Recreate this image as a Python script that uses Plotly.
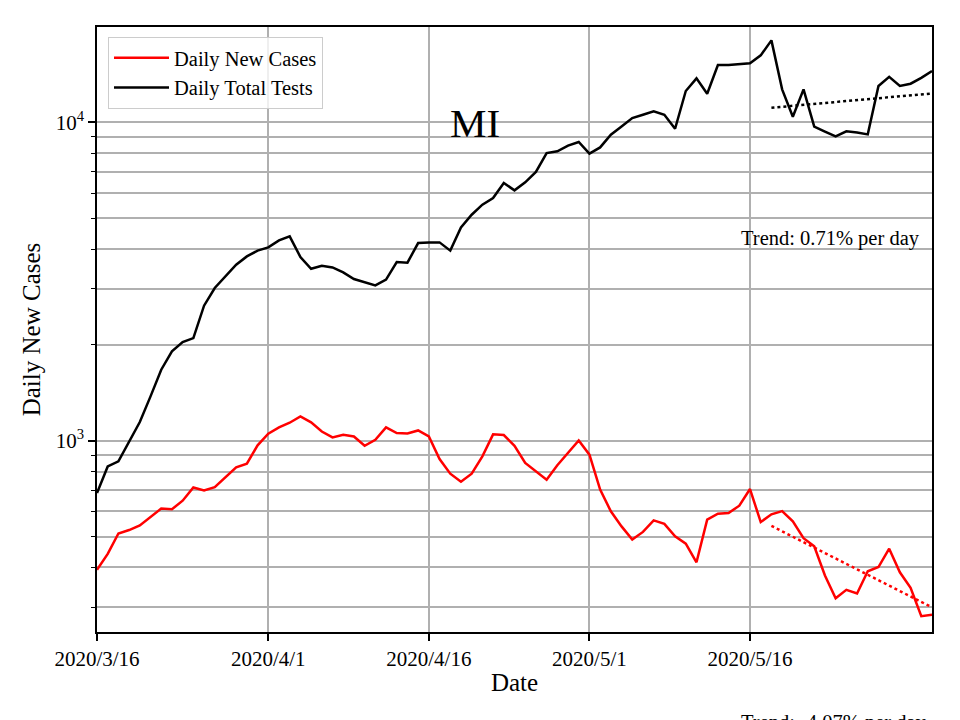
import plotly.graph_objects as go
import pandas as pd

start_date = "2020-03-16"
dates = pd.date_range(start_date, periods=79, freq="D")

daily_new_cases = [
    393, 441, 511, 524, 542, 576, 612, 609, 648, 713,
    698, 715, 769, 825, 847, 967, 1052, 1101, 1139, 1192,
    1142, 1069, 1024, 1044, 1031, 964, 1007, 1101, 1057, 1054,
    1077, 1031, 876, 788, 743, 788, 893, 1047, 1042, 964,
    851, 801, 754, 837, 919, 1002, 904, 702, 600, 538,
    489, 517, 562, 548, 501, 475, 415, 565, 590, 593,
    625, 705, 555, 587, 601, 558, 494, 466, 377, 320,
    340, 331, 389, 401, 458, 386, 345, 281, 284,
]

daily_total_tests = [
    685, 830, 861, 995, 1145, 1378, 1671, 1909, 2042, 2101,
    2656, 3018, 3282, 3573, 3793, 3955, 4048, 4259, 4385, 3777,
    3468, 3545, 3502, 3377, 3221, 3152, 3077, 3206, 3642, 3625,
    4178, 4198, 4198, 3955, 4680, 5128, 5513, 5787, 6451, 6116,
    6482, 6987, 8013, 8110, 8451, 8680, 7975, 8345, 9150, 9710,
    10316, 10570, 10826, 10570, 9550, 12550, 13750, 12300, 15140, 15140,
    15220, 15330, 16240, 18100, 12700, 10420, 12700, 9694, 9350, 9036,
    9375, 9302, 9170, 13015, 13900, 13015, 13230, 13800, 14500,
]

# trend lines (start/end values)
trend_dates = ["2020-05-18", "2020-06-02"]
trend_cases = [540, 299.5]
trend_tests = [11120, 12330]

tick_dates = ["2020-03-16", "2020-04-01", "2020-04-16", "2020-05-01", "2020-05-16"]
tick_labels = ["2020/3/16", "2020/4/1", "2020/4/16", "2020/5/1", "2020/5/16"]

title_text = "MI"
trend_tests_text = "Trend: 0.71% per day"
trend_cases_text = "Trend: -4.07% per day"

FONT = "Liberation Serif, Times New Roman, serif"
GRID = "#b0b0b0"

# page body has an 8px margin, so the figure is 952x712 placed at (8, 8)
OFF = 8
L, R, T, B = 97 - OFF, 28, 27 - OFF, 88
PW, PH = 835, 605


def px(x):
    return (x - 97) / PW


def py(y):
    return (632 - y) / PH


fig = go.Figure()
fig.add_trace(go.Scatter(x=dates, y=daily_new_cases, mode="lines",
                         line=dict(color="red", width=2.5), name="Daily New Cases"))
fig.add_trace(go.Scatter(x=dates, y=daily_total_tests, mode="lines",
                         line=dict(color="black", width=2.5), name="Daily Total Tests"))
fig.add_trace(go.Scatter(x=trend_dates, y=trend_tests, mode="lines",
                         line=dict(color="black", width=2.5, dash="dot"), showlegend=False))
fig.add_trace(go.Scatter(x=trend_dates, y=trend_cases, mode="lines",
                         line=dict(color="red", width=2.5, dash="dot"), showlegend=False))

fig.update_layout(
    width=952, height=712,
    margin=dict(l=L, r=R, t=T, b=B),
    paper_bgcolor="white", plot_bgcolor="white",
    font=dict(family=FONT, size=21, color="black"),
    showlegend=True,
    legend=dict(x=px(108), y=py(37), xanchor="left", yanchor="top",
                bgcolor="rgba(255,255,255,0.8)", bordercolor="#cccccc", borderwidth=1,
                itemwidth=55, tracegroupgap=0,
                font=dict(size=20.5, family=FONT)),
    xaxis=dict(
        type="date", range=["2020-03-16", "2020-06-02"],
        tickvals=tick_dates, ticktext=tick_labels,
        showgrid=True, gridcolor=GRID, gridwidth=1.5,
        showline=True, linecolor="black", linewidth=1.5, mirror=True,
        ticks="outside", ticklen=7, tickwidth=1.5, tickcolor="black",
        title=dict(text="Date", standoff=4), automargin=False,
        zeroline=False,
    ),
    yaxis=dict(
        type="log", range=[2.399, 4.2997],
        tickvals=[1000, 10000], ticktext=["10<sup>3</sup>", "10<sup>4</sup>"],
        showgrid=True, gridcolor=GRID, gridwidth=1.5,
        showline=True, linecolor="black", linewidth=1.5, mirror=True,
        ticks="outside", ticklen=7, tickwidth=1.5, tickcolor="black",
        minor=dict(tickvals=[300, 400, 500, 600, 700, 800, 900,
                             2000, 3000, 4000, 5000, 6000, 7000, 8000, 9000],
                   ticks="outside", ticklen=4, tickwidth=1, tickcolor="black",
                   showgrid=True, gridcolor=GRID, gridwidth=1.5),
        title=dict(text="Daily New Cases", standoff=8), automargin=False,
        zeroline=False,
    ),
    annotations=[
        dict(text=title_text, xref="paper", yref="paper", x=px(475), y=py(123),
             showarrow=False, font=dict(size=41, family=FONT), xanchor="center", yanchor="middle"),
        dict(text=trend_tests_text, xref="paper", yref="paper", x=px(922), y=py(239),
             showarrow=False, font=dict(size=20.5, family=FONT), xanchor="right", yanchor="middle"),
        dict(text=trend_cases_text, xref="paper", yref="paper", x=px(929), y=py(723),
             showarrow=False, font=dict(size=20.5, family=FONT), xanchor="right", yanchor="middle"),
    ],
)

fig.write_html("out.html")
